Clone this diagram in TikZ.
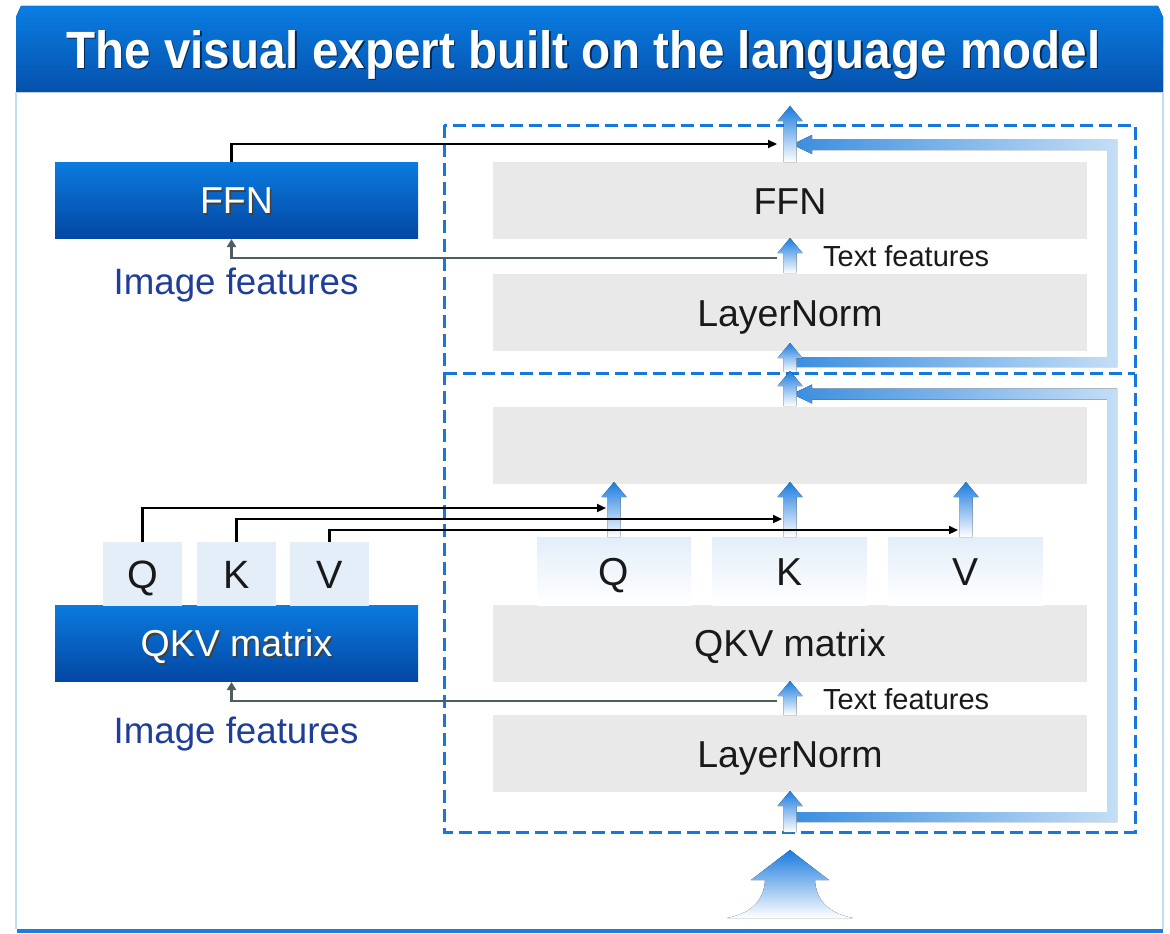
\documentclass[tikz,border=0pt]{standalone}
\usepackage{fontspec}
\setmainfont{Liberation Sans}
\usetikzlibrary{arrows.meta,calc}

\definecolor{barTop}{HTML}{0A7DE2}
\definecolor{barBot}{HTML}{0551AC}
\definecolor{boxTop}{HTML}{0A7BDF}
\definecolor{boxBot}{HTML}{0447A3}
\definecolor{panel}{HTML}{E9E9E9}
\definecolor{dashblue}{HTML}{1677DD}
\definecolor{arrblue}{HTML}{1A7BDF}
\definecolor{resDark}{HTML}{3A8EE0}
\definecolor{resLight}{HTML}{C4DEF6}
\definecolor{qkvTint}{HTML}{E3EEF9}
\definecolor{imgblue}{HTML}{1F3E98}
\definecolor{feedgray}{HTML}{4E5E5D}
\definecolor{frameline}{HTML}{C3DCF4}
\definecolor{footblue}{HTML}{1C7DDB}

% white label with a small dark drop shadow
\newcommand\shadowed[1]{\makebox[0pt][l]{\kern1.6pt\raisebox{-1.6pt}{\textcolor{black!75}{#1}}}\textcolor{white}{#1}}
% title label with a dark blue drop shadow
\newcommand\titleshadowed[1]{\makebox[0pt][l]{\kern1.6pt\raisebox{-1.6pt}{\textcolor{barBot!50!black}{#1}}}\textcolor{white}{#1}}
% upward block arrow fading downwards: x, bottom y, tip y
\newcommand\gradup[3]{\fill[top color=arrblue, bottom color=white]
  ({#1-6.5},#2) -- ({#1-6.5},{#3+15}) -- ({#1-12.5},{#3+15}) -- (#1,#3)
  -- ({#1+12.5},{#3+15}) -- ({#1+6.5},{#3+15}) -- ({#1+6.5},#2) -- cycle;}
\newcommand\titletext{\resizebox{1034pt}{38pt}{\fontsize{40}{44}\selectfont\bfseries The visual expert built on the language model}}

\tikzset{
  bluebox/.style={rectangle, inner sep=0pt, outer sep=0pt, top color=boxTop, bottom color=boxBot,
    minimum width=363pt, minimum height=76pt, font=\fontsize{37.5}{40}\selectfont,
    text height=27pt, text depth=0pt},
  panelbox/.style={rectangle, fill=panel, inner sep=0pt, outer sep=0pt,
    minimum width=594pt, minimum height=77pt, font=\fontsize{37.5}{40}\selectfont,
    text=black!90, text height=27pt, text depth=0pt},
  tintbox/.style={rectangle, fill=qkvTint, inner sep=0pt, outer sep=0pt,
    minimum width=79pt, minimum height=64pt, font=\fontsize{39.5}{42}\selectfont,
    text=black!90, text height=28pt, text depth=0pt},
  fadebox/.style={rectangle, top color=qkvTint, bottom color=white, inner sep=0pt, outer sep=0pt,
    minimum width=154pt, minimum height=68pt, font=\fontsize{39}{42}\selectfont,
    text=black!90, text height=28pt, text depth=0pt},
  conn/.style={black, line width=2.2pt, -{Triangle[length=9pt,width=8pt]}},
  feed/.style={feedgray, line width=2.5pt, -{Triangle[length=8pt,width=9pt]}},
  dashframe/.style={dashblue, line width=3pt, dash pattern=on 13pt off 6pt},
  imglabel/.style={imgblue, font=\fontsize{36.7}{40}\selectfont, anchor=base, inner sep=0pt},
  txtlabel/.style={black!90, font=\fontsize{29}{32}\selectfont, anchor=base west, inner sep=0pt},
}

\begin{document}
\begin{tikzpicture}[x=1pt, y=-1pt]
\useasboundingbox (0,0) rectangle (1170,934);
\fill[white] (0,0) rectangle (1170,934);

% title bar
\fill[top color=barTop, bottom color=barBot]
  (16,17) -- (21,6) -- (1158,6) -- (1163,17) -- (1163,92) -- (16,92) -- cycle;
\node[anchor=base west, inner sep=0pt] (title) at (66,68) {\titleshadowed{\titletext}};

% outer frame
\draw[frameline, line width=2pt] (16,92) -- (16,929);
\draw[frameline, line width=2pt] (1163,92) -- (1163,929);
\draw[footblue, line width=3.5pt] (17,931) -- (1163,931);

% dashed layer frames
\draw[dashframe] (444,125) rectangle (1135,832);
\draw[dashframe] (444,373) -- (1135,373);

% language model blocks
\node[panelbox] (ffnR) at (790,200.5) {FFN};
\node[panelbox] (lnTop) at (790,312.5) {LayerNorm};
\node[panelbox] (attn) at (790,445) {};
\node[panelbox] (qkvR) at (790,643) {QKV matrix};
\node[panelbox] (lnBot) at (790,753.5) {LayerNorm};

\node[fadebox] (qR) at (614,571) {Q};
\node[fadebox] (kR) at (789.5,571) {K};
\node[fadebox] (vR) at (965.5,571) {V};

% visual expert blocks
\node[bluebox] (ffnL) at (236.5,200) {\shadowed{FFN}};
\node[bluebox] (qkvL) at (236.5,643) {\shadowed{QKV matrix}};
\node[tintbox] (qL) at (142.5,574) {Q};
\node[tintbox] (kL) at (236.5,574) {K};
\node[tintbox] (vL) at (329.5,574) {V};

\node[imglabel] (imgTop) at (236,294) {Image features};
\node[imglabel] (imgBot) at (236,743) {Image features};
\node[txtlabel] (tfTop) at (823,266) {Text features};
\node[txtlabel] (tfBot) at (823,709) {Text features};

% residual connections
\fill[left color=resDark, right color=resLight]
  (792,144.5) -- (812,135) -- (812,139) -- (1117,139) -- (1117,367) -- (795,367)
  -- (795,357) -- (1107,357) -- (1107,150) -- (812,150) -- (812,154) -- cycle;
\fill[left color=resDark, right color=resLight]
  (792,394) -- (812,384.5) -- (812,388.5) -- (1117,388.5) -- (1117,822) -- (795,822)
  -- (795,812) -- (1107,812) -- (1107,399.5) -- (812,399.5) -- (812,403.5) -- cycle;

% data flow arrows
\gradup{790}{162}{106}
\gradup{790}{273}{238}
\gradup{790}{372}{343}
\gradup{790}{406}{371}
\gradup{614}{537}{482}
\gradup{790}{537}{482}
\gradup{966}{537}{482}
\gradup{790}{715}{681}
\gradup{790}{832}{791}

% input arrow
\fill[top color=arrblue, bottom color=white]
  (790,850) -- (829,880) -- (815,880) .. controls (816,903) and (832,914) .. (853,918)
  -- (727,918) .. controls (748,914) and (764,903) .. (765,880) -- (751,880) -- cycle;

% connectors between the two streams
\coordinate (ffnIn) at (777,144);
\coordinate (fbTop) at (777,258);
\coordinate (qIn) at (606,508);
\coordinate (kIn) at (782,519);
\coordinate (vIn) at (958,530);
\coordinate (fbBot) at (777,701);

\draw[conn] ([xshift=-5pt]ffnL.north) |- (ffnIn);
\draw[feed] (fbTop) -| ([xshift=-5pt,yshift=-1pt]ffnL.south);
\draw[conn] (qL.north) |- (qIn);
\draw[conn] (kL.north) |- (kIn);
\draw[conn] (vL.north) |- (vIn);
\draw[feed] (fbBot) -| ([xshift=-5pt,yshift=-1pt]qkvL.south);
\end{tikzpicture}
\end{document}
